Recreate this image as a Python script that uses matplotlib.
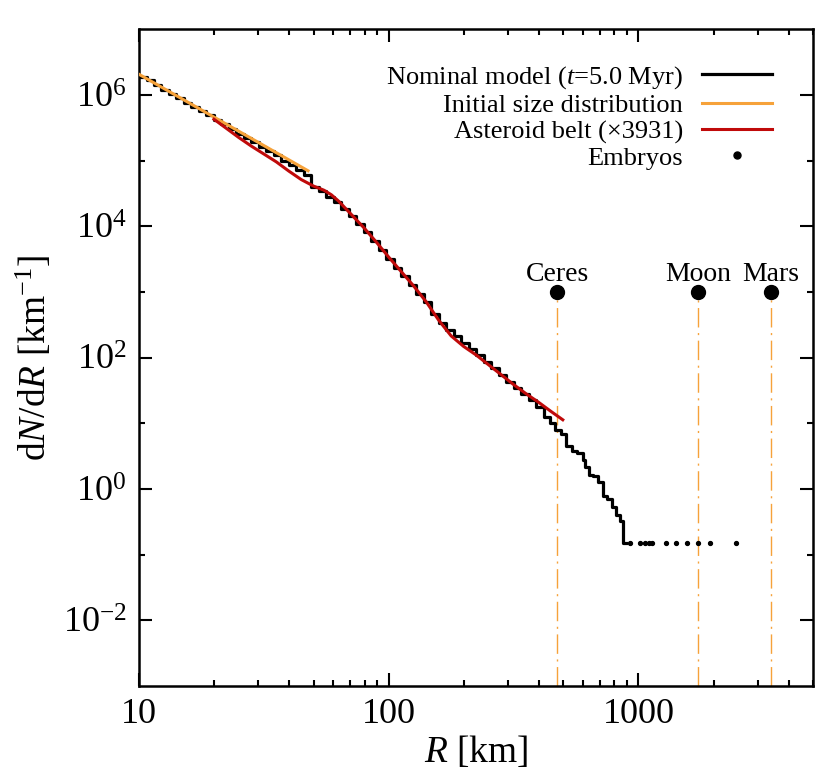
import numpy as np
import matplotlib
matplotlib.use('Agg')
import matplotlib.pyplot as plt
from matplotlib.ticker import FixedLocator, FuncFormatter, LogLocator, NullFormatter

plt.rcParams['font.family'] = ['Liberation Serif', 'DejaVu Serif']
plt.rcParams['mathtext.fontset'] = 'custom'
plt.rcParams['mathtext.rm'] = 'Liberation Serif'
plt.rcParams['mathtext.it'] = 'Liberation Serif:italic'

# nominal model: step histogram, log10 of bin left edges (km) and log10 dN/dR
nominal_log_r = [1.00, 1.03, 1.06, 1.09, 1.12, 1.15, 1.18, 1.21, 1.24, 1.27,
                 1.30, 1.33, 1.36, 1.39, 1.42, 1.45, 1.48, 1.51, 1.54, 1.57,
                 1.60, 1.63, 1.66, 1.69, 1.72, 1.75, 1.78, 1.81, 1.84, 1.87,
                 1.90, 1.93, 1.96, 1.99, 2.02, 2.05, 2.08, 2.11, 2.14, 2.17,
                 2.20, 2.23, 2.26, 2.29, 2.32, 2.35, 2.38, 2.41, 2.44, 2.47,
                 2.50, 2.53,
                 2.56, 2.59, 2.62, 2.645, 2.665, 2.69, 2.711, 2.735, 2.755, 2.777,
                 2.787, 2.80, 2.82, 2.84, 2.857, 2.875, 2.893, 2.91, 2.925, 2.937,
                 2.95]
nominal_log_dndr = [6.28, 6.22, 6.15, 6.08, 6.02, 5.95, 5.88, 5.82, 5.75, 5.69,
                    5.62, 5.55, 5.48, 5.41, 5.35, 5.28, 5.21, 5.15, 5.08, 5.00,
                    4.93, 4.86, 4.78, 4.60, 4.53, 4.45, 4.37, 4.27, 4.16, 4.04,
                    3.92, 3.78, 3.64, 3.50, 3.37, 3.24, 3.10, 2.97, 2.84, 2.67,
                    2.52, 2.42, 2.33, 2.23, 2.13, 2.04, 1.93, 1.84, 1.73, 1.63,
                    1.54, 1.45,
                    1.36, 1.25, 1.10, 1.00, 0.90, 0.83, 0.65, 0.58, 0.55, 0.44,
                    0.34, 0.22, 0.19, 0.11, -0.11, -0.16, -0.27, -0.39, -0.49, -0.823]

# initial size distribution (power law)
initial_r = [10.0, 47.5]
initial_dndr = [2.06e6, 7.0e4]

# asteroid belt, scaled by 3931
belt_log_r = [1.30, 1.35, 1.40, 1.45, 1.50, 1.55, 1.60, 1.65, 1.70, 1.74,
              1.77, 1.80, 1.85, 1.90, 1.95, 2.00, 2.05, 2.10, 2.15, 2.20,
              2.25, 2.30, 2.35, 2.40, 2.45, 2.50, 2.55, 2.60, 2.65, 2.697]
belt_log_dndr = [5.63, 5.49, 5.35, 5.22, 5.10, 4.98, 4.84, 4.71, 4.61, 4.55,
                 4.48, 4.38, 4.18, 3.98, 3.76, 3.53, 3.31, 3.09, 2.85, 2.57,
                 2.33, 2.17, 2.04, 1.89, 1.74, 1.59, 1.45, 1.32, 1.18, 1.053]

# embryos
embryo_r = [929, 1019, 1064, 1099, 1135, 1291, 1415, 1567, 1734, 1936, 2466]
embryo_dndr = [0.15] * len(embryo_r)

# reference bodies
body_names = ['Ceres', 'Moon', 'Mars']
body_r = [473, 1737, 3390]
body_y = 1e3

orange = '#F6A23A'
red = '#C00A0A'

fig = plt.figure(figsize=(8.3, 7.82), dpi=100)
ax = fig.add_axes([0.1675, 0.1228, 0.812, 0.8398])

r_edges = 10 ** np.array(nominal_log_r)
dndr = 10 ** np.array(nominal_log_dndr)
ax.step(r_edges, np.append(dndr, dndr[-1]), where='post', color='black', lw=2.3,
        label=r'Nominal model ($t$=5.0 Myr)', zorder=2)
ax.plot(initial_r, initial_dndr, color=orange, lw=2.2,
        label='Initial size distribution', zorder=3)
ax.plot(10 ** np.array(belt_log_r), 10 ** np.array(belt_log_dndr), color=red, lw=2.2,
        label='Asteroid belt (\u00d73931)', zorder=3)
ax.plot(embryo_r, embryo_dndr, 'o', color='black', ms=2.8, label='Embryos', zorder=3)

for name, r in zip(body_names, body_r):
    ax.plot([r, r], [1e-3, body_y], color=orange, lw=1.0, dashes=(14, 4, 1.5, 4), zorder=1)
    ax.plot(r, body_y, 'o', color='black', ms=10, zorder=4)
    ax.annotate(name, (r, body_y), xytext=(0, 8), textcoords='offset points',
                ha='center', va='baseline', fontsize=20)

ax.set_xscale('log')
ax.set_yscale('log')
ax.set_xlim(10, 5000)
ax.set_ylim(1e-3, 1e7)

ax.xaxis.set_major_locator(FixedLocator([10, 100, 1000]))
ax.xaxis.set_major_formatter(FuncFormatter(lambda v, p: '%d' % v))
ax.xaxis.set_minor_locator(LogLocator(base=10, subs=np.arange(2, 10)))
ax.xaxis.set_minor_formatter(NullFormatter())
ax.yaxis.set_major_locator(FixedLocator([1e-2, 1e0, 1e2, 1e4, 1e6]))
ax.yaxis.set_major_formatter(FuncFormatter(lambda v, p: r'$10^{%d}$' % round(np.log10(v))))
ax.yaxis.set_minor_locator(FixedLocator([1e-1, 1e1, 1e3, 1e5]))
ax.yaxis.set_minor_formatter(NullFormatter())

ax.tick_params(which='both', direction='in', top=True, right=True, width=1.5, labelsize=26)
ax.tick_params(which='major', length=9.5, pad=9)
ax.tick_params(which='minor', length=4.5)
for s in ax.spines.values():
    s.set_linewidth(1.8)

ax.set_xlabel(r'$R$ [km]', fontsize=27, labelpad=2)
ax.set_ylabel(r'd$N$/d$R$ [km$^{-1}$]', fontsize=27, labelpad=6)

ax.legend(loc='upper right', bbox_to_anchor=(0.9387, 0.947), frameon=False,
          markerfirst=False, fontsize=19, handlelength=2.65, handletextpad=0.71,
          labelspacing=0.1, borderpad=0, borderaxespad=0, markerscale=1.8, numpoints=1)

fig.savefig('out.png', dpi=100)
